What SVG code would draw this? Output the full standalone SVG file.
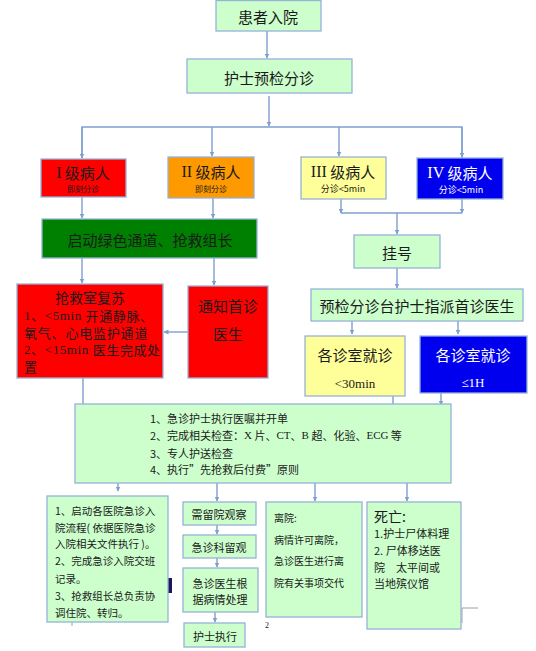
<svg xmlns="http://www.w3.org/2000/svg" width="536" height="651" viewBox="0 0 536 651">
<defs>
<marker id="ah" viewBox="0 0 10 10" refX="9" refY="5" markerWidth="5" markerHeight="5" orient="auto" markerUnits="userSpaceOnUse"><path d="M0,0 L10,5 L0,10 z" fill="#7f9fcf"/></marker>
<style>
.bx{stroke:#95b3d7;stroke-width:1.3}
.g{fill:#ccffcc}
.t{font-family:"Noto Sans CJK SC","Liberation Sans",sans-serif;fill:#1a1a1a;dominant-baseline:central}
.s{font-family:"Liberation Serif","Noto Sans CJK SC",serif;fill:#1a1a1a;dominant-baseline:central}
.c{stroke:#7f9fcf;stroke-width:1.4;fill:none}
.m{text-anchor:middle}
</style>
</defs>
<rect width="536" height="651" fill="#ffffff"/>
<g id="connectors">
<path class="c" d="M267,31 V58" marker-end="url(#ah)"/>
<path class="c" d="M269,96 V126" marker-end="url(#ah)"/>
<path class="c" d="M82,158 V127 H462 V158"/>
<path class="c" d="M212,127 V156" marker-end="url(#ah)"/>
<path class="c" d="M339,127 V156" marker-end="url(#ah)"/>
<path class="c" d="M82,127 V158" marker-end="url(#ah)"/>
<path class="c" d="M462,127 V157" marker-end="url(#ah)"/>
<path class="c" d="M82,197 V218" marker-end="url(#ah)"/>
<path class="c" d="M213,198 V218" marker-end="url(#ah)"/>
<path class="c" d="M341,199 V213" marker-end="url(#ah)"/>
<path class="c" d="M462,199 V213" marker-end="url(#ah)"/>
<path class="c" d="M341,213 H462"/>
<path class="c" d="M397,213 V234" marker-end="url(#ah)"/>
<path class="c" d="M397,268 V288" marker-end="url(#ah)"/>
<path class="c" d="M352,321 V334" marker-end="url(#ah)"/>
<path class="c" d="M458,321 V334" marker-end="url(#ah)"/>
<path class="c" d="M82,258 V283" marker-end="url(#ah)"/>
<path class="c" d="M214,258 V285" marker-end="url(#ah)"/>
<path class="c" d="M188,332 H164" marker-end="url(#ah)"/>
<path class="c" d="M83,378 V404"/>
<path class="c" d="M393,396 V404"/>
<path class="c" d="M441,393 V405" marker-end="url(#ah)"/>
<path class="c" d="M118,483 V491" marker-end="url(#ah)"/>
<path class="c" d="M217,483 V501" marker-end="url(#ah)"/>
<path class="c" d="M315,483 V501" marker-end="url(#ah)"/>
<path class="c" d="M407,483 V501" marker-end="url(#ah)"/>
<path class="c" d="M217,525 V534" marker-end="url(#ah)"/>
<path class="c" d="M217,558 V567" marker-end="url(#ah)"/>
<path class="c" d="M215,612 V622" marker-end="url(#ah)"/>
<path d="M462,623 V608 H478" stroke="#a0a0a0" stroke-width="1" fill="none"/>
<path d="M72,622 V626" stroke="#a0a0a0" stroke-width="1" fill="none"/>
</g>
<g id="n1"><rect class="bx g" x="216" y="0.5" width="105" height="30.5"/><text class="t m" x="268" y="16" font-size="15">患者入院</text></g>
<g id="n2"><rect class="bx g" x="187" y="59" width="165" height="34"/><text class="t m" x="269" y="77" font-size="15">护士预检分诊</text></g>
<g id="n3"><rect class="bx" fill="#ff0000" x="41" y="159" width="85" height="38"/><text class="t m" x="83" y="172" font-size="15"><tspan class="s" font-size="16">I</tspan> 级病人</text><text class="t m" x="83" y="188" font-size="8">即刻分诊</text></g>
<g id="n4"><rect class="bx" fill="#ff9900" x="168" y="157" width="86" height="41"/><text class="t m" x="211" y="171" font-size="15"><tspan class="s" font-size="16">II</tspan> 级病人</text><text class="t m" x="211" y="188" font-size="8">即刻分诊</text></g>
<g id="n5"><rect class="bx" fill="#ffff99" x="301" y="157" width="85" height="42"/><text class="t m" x="343" y="171" font-size="15"><tspan class="s" font-size="16">III</tspan> 级病人</text><text class="t m" x="343" y="188" font-size="9">分诊&lt;5min</text></g>
<g id="n6"><rect class="bx" fill="#0000ee" x="417" y="158" width="86" height="41"/><text class="t m" x="460" y="172" font-size="15" style="fill:#ffffff"><tspan class="s" font-size="16" style="fill:#ffffff">IV</tspan> 级病人</text><text class="t m" x="461" y="189" font-size="9" style="fill:#ffffff">分诊&lt;5min</text></g>
<g id="n7"><rect class="bx" fill="#008000" x="42" y="219" width="215" height="39"/><text class="t m" x="150" y="239" font-size="15">启动绿色通道、抢救组长</text></g>
<g id="n8"><rect class="bx g" x="354" y="235" width="86" height="33"/><text class="t m" x="397" y="252" font-size="15">挂号</text></g>
<g id="n9"><rect class="bx g" x="311" y="289" width="212" height="32"/><text class="t m" x="417" y="305" font-size="15">预检分诊台护士指派首诊医生</text></g>
<g id="n10"><rect class="bx" fill="#ff0000" x="17" y="284" width="146" height="94"/><text class="t m" x="90" y="297" font-size="14">抢救室复苏</text><text class="t" x="24" y="315" font-size="13" letter-spacing="0.6"><tspan class="s">1、&lt;5min </tspan>开通静脉、</text><text class="t" x="24" y="332" font-size="13" letter-spacing="0.8">氧气、心电监护通道</text><text class="t" x="24" y="349" font-size="13" letter-spacing="0.6"><tspan class="s">2、&lt;15min </tspan>医生完成处</text><text class="t" x="24" y="366" font-size="13">置</text></g>
<g id="n11"><rect class="bx" fill="#ff0000" x="188" y="286" width="80" height="92"/><text class="t m" x="228" y="305" font-size="15">通知首诊</text><text class="t m" x="228" y="333" font-size="15">医生</text></g>
<g id="n12"><rect class="bx" fill="#ffff99" x="305" y="336" width="100" height="60"/><text class="t m" x="355" y="354" font-size="15">各诊室就诊</text><text class="s m" x="355" y="383" font-size="13">&lt;30min</text></g>
<g id="n13"><rect class="bx" fill="#0000ee" x="420" y="336" width="107" height="57"/><text class="t m" x="473" y="354" font-size="15" style="fill:#ffffff">各诊室就诊</text><text class="s m" x="473" y="382" font-size="13" style="fill:#ffffff">≤1H</text></g>
<g id="n14"><rect class="bx g" x="75" y="404" width="376" height="79"/>
<text class="t" x="150" y="418" font-size="11">1、急诊护士执行医嘱并开单</text>
<text class="t" x="150" y="435" font-size="11">2、完成相关检查：<tspan class="s">X</tspan> 片、<tspan class="s">CT</tspan>、<tspan class="s">B</tspan> 超、化验、<tspan class="s">ECG</tspan> 等</text>
<text class="t" x="150" y="453" font-size="11">3、专人护送检查</text>
<text class="t" x="150" y="469" font-size="11">4、执行”先抢救后付费”原则</text></g>
<rect x="168" y="578" width="4" height="15" fill="#1a1a5a"/>
<g id="n15"><rect class="bx g" x="47" y="496" width="121" height="126"/>
<text class="t" x="55" y="510" font-size="10.5">1、启动各医院急诊入</text>
<text class="t" x="55" y="527" font-size="10.5">院流程( 依据医院急诊</text>
<text class="t" x="55" y="543" font-size="10.5">入院相关文件执行 )。</text>
<text class="t" x="55" y="560" font-size="10.5">2、完成急诊入院交班</text>
<text class="t" x="55" y="578" font-size="10.5">记录。</text>
<text class="t" x="55" y="595" font-size="10.5">3、抢救组长总负责协</text>
<text class="t" x="55" y="612" font-size="10.5">调住院、转归。</text></g>
<g id="n16"><rect class="bx g" x="183" y="502" width="73" height="23"/><text class="t m" x="219" y="514" font-size="11">需留院观察</text></g>
<g id="n17"><rect class="bx g" x="183" y="535" width="73" height="23"/><text class="t m" x="219" y="547" font-size="11">急诊科留观</text></g>
<g id="n18"><rect class="bx g" x="183" y="568" width="75" height="44"/><text class="t m" x="220" y="583" font-size="11">急诊医生根</text><text class="t m" x="220" y="599" font-size="11">据病情处理</text></g>
<g id="n19"><rect class="bx g" x="184" y="623" width="61" height="24"/><text class="t m" x="215" y="636" font-size="11">护士执行</text></g>
<g id="n20"><rect class="bx g" x="266" y="502" width="96" height="115"/>
<text class="t" x="274" y="517" font-size="10">离院:</text>
<text class="t" x="274" y="539" font-size="10">病情许可离院，</text>
<text class="t" x="274" y="560" font-size="10">急诊医生进行离</text>
<text class="t" x="274" y="582" font-size="10">院有关事项交代</text></g>
<g id="n21"><rect class="bx g" x="367" y="502" width="94" height="127"/>
<text class="t" x="374" y="516" font-size="14">死亡:</text>
<text class="t" x="374" y="533" font-size="11">1.护士尸体料理</text>
<text class="t" x="374" y="550" font-size="11">2. 尸体移送医</text>
<text class="t" x="374" y="567" font-size="11">院　太平间或</text>
<text class="t" x="374" y="583" font-size="11">当地殡仪馆</text></g>
<text class="s" x="265" y="625" font-size="8">2</text>
</svg>
